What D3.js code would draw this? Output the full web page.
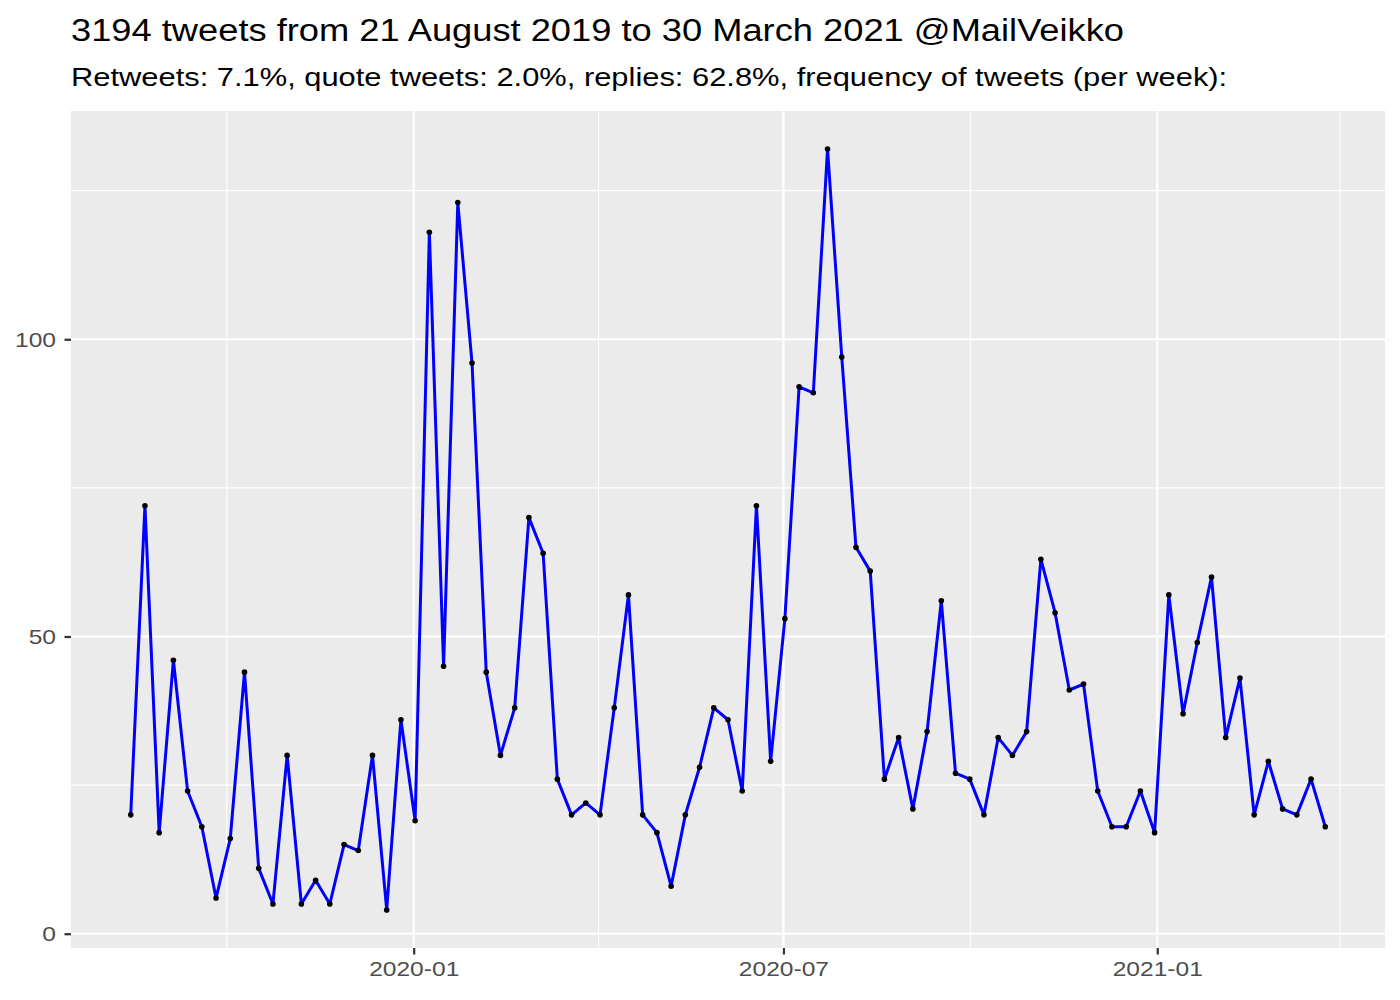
<!DOCTYPE html>
<html>
<head>
<meta charset="utf-8">
<title>tweets per week</title>
<script src="https://d3js.org/d3.v7.min.js"></script>
<style>
  body { margin: 0; background: #fff; }
  text { font-family: "Liberation Sans", Arial, sans-serif; }
</style>
</head>
<body>
<div id="chart"></div>
<script>
// weekly tweet counts
var startDate = "2019-08-14T17:00:00Z";
var weeklyCounts = [
  20, 72, 17, 46, 24, 18, 6, 16, 44, 11,
  5, 30, 5, 9, 5, 15, 14, 30, 4, 36,
  19, 118, 45, 123, 96, 44, 30, 38, 70, 64,
  26, 20, 22, 20, 38, 57, 20, 17, 8, 20,
  28, 38, 36, 24, 72, 29, 53, 92, 91, 132,
  97, 65, 61, 26, 33, 21, 34, 56, 27, 26,
  20, 33, 30, 34, 63, 54, 41, 42, 24, 18,
  18, 24, 17, 57, 37, 49, 60, 33, 43, 20,
  29, 21, 20, 26, 18
];
var xMajorTicks = ["2020-01-01", "2020-07-01", "2021-01-01"];
var xMinorTicks = ["2019-10-01", "2020-04-01", "2020-10-01", "2021-04-01"];
var yMajorTicks = [0, 50, 100];
var yMinorTicks = [25, 75, 125];
var titleText = "3194 tweets from 21 August 2019 to 30 March 2021 @MailVeikko";
var subtitleText = "Retweets: 7.1%, quote tweets: 2.0%, replies: 62.8%, frequency of tweets (per week):";

var width = 1400, height = 1000;
var panel = {left: 71, right: 1385, top: 111, bottom: 948};

var t0 = new Date(startDate);
var data = weeklyCounts.map(function(v, i) {
  return {date: d3.utcDay.offset(t0, 7 * i), n: v};
});

var svg = d3.select('#chart').append('svg')
  .attr('width', width).attr('height', height);

// ggplot style 5% expansion
var xExt = d3.extent(data, function(d) { return d.date; });
var xPad = (xExt[1] - xExt[0]) * 0.05;
var x = d3.scaleUtc()
  .domain([new Date(+xExt[0] - xPad), new Date(+xExt[1] + xPad)])
  .range([panel.left, panel.right]);

var yExt = d3.extent(weeklyCounts);
var yPad = (yExt[1] - yExt[0]) * 0.05;
var y = d3.scaleLinear()
  .domain([yExt[0] - yPad, yExt[1] + yPad])
  .range([panel.bottom, panel.top]);

var parseDay = d3.utcParse("%Y-%m-%d");

// the reference text is drawn a bit wider than plain Liberation Sans
function widen(stretch) {
  return function(sel) {
    sel.each(function() {
      var w = this.getComputedTextLength();
      d3.select(this)
        .attr('textLength', w * stretch)
        .attr('lengthAdjust', 'spacingAndGlyphs');
    });
  };
}

// panel background
svg.append('rect')
  .attr('x', panel.left).attr('y', panel.top)
  .attr('width', panel.right - panel.left)
  .attr('height', panel.bottom - panel.top)
  .attr('fill', '#EBEBEB');

var grid = svg.append('g');

// minor grid
grid.selectAll('.xminor').data(xMinorTicks).enter().append('line')
  .attr('x1', function(d) { return x(parseDay(d)); })
  .attr('x2', function(d) { return x(parseDay(d)); })
  .attr('y1', panel.top).attr('y2', panel.bottom)
  .attr('stroke', '#fff').attr('stroke-width', 1.1);
grid.selectAll('.yminor').data(yMinorTicks).enter().append('line')
  .attr('y1', function(d) { return y(d); })
  .attr('y2', function(d) { return y(d); })
  .attr('x1', panel.left).attr('x2', panel.right)
  .attr('stroke', '#fff').attr('stroke-width', 1.1);

// major grid
grid.selectAll('.xmajor').data(xMajorTicks).enter().append('line')
  .attr('x1', function(d) { return x(parseDay(d)); })
  .attr('x2', function(d) { return x(parseDay(d)); })
  .attr('y1', panel.top).attr('y2', panel.bottom)
  .attr('stroke', '#fff').attr('stroke-width', 2.2);
grid.selectAll('.ymajor').data(yMajorTicks).enter().append('line')
  .attr('y1', function(d) { return y(d); })
  .attr('y2', function(d) { return y(d); })
  .attr('x1', panel.left).attr('x2', panel.right)
  .attr('stroke', '#fff').attr('stroke-width', 2.2);

// axes
var xAxis = svg.append('g')
  .attr('transform', 'translate(0,' + panel.bottom + ')')
  .call(d3.axisBottom(x)
    .tickValues(xMajorTicks.map(parseDay))
    .tickFormat(d3.utcFormat("%Y-%m"))
    .tickSize(6.5).tickPadding(7));
var yAxis = svg.append('g')
  .attr('transform', 'translate(' + panel.left + ',0)')
  .call(d3.axisLeft(y)
    .tickValues(yMajorTicks)
    .tickSize(6.5).tickPadding(8.5));

[xAxis, yAxis].forEach(function(ax) {
  ax.select('.domain').remove();
  ax.selectAll('.tick line').attr('stroke', '#333333').attr('stroke-width', 2.2);
  ax.selectAll('.tick text')
    .attr('fill', '#4D4D4D')
    .attr('font-size', 21)
    .attr('font-family', '"Liberation Sans", Arial, sans-serif')
    .call(widen(1.17));
});

// line + points
var line = d3.line()
  .x(function(d) { return x(d.date); })
  .y(function(d) { return y(d.n); });

svg.append('path')
  .datum(data)
  .attr('d', line)
  .attr('fill', 'none')
  .attr('stroke', '#0000FF')
  .attr('stroke-width', 3)
  .attr('stroke-linejoin', 'round');

svg.selectAll('.pt').data(data).enter().append('circle')
  .attr('cx', function(d) { return x(d.date); })
  .attr('cy', function(d) { return y(d.n); })
  .attr('r', 2.8)
  .attr('fill', '#000');

// titles
svg.append('text')
  .attr('x', panel.left).attr('y', 41)
  .attr('font-size', 31)
  .attr('fill', '#000')
  .text(titleText)
  .call(widen(1.17));
svg.append('text')
  .attr('x', panel.left).attr('y', 86)
  .attr('font-size', 26)
  .attr('fill', '#000')
  .text(subtitleText)
  .call(widen(1.187));
</script>
</body>
</html>
